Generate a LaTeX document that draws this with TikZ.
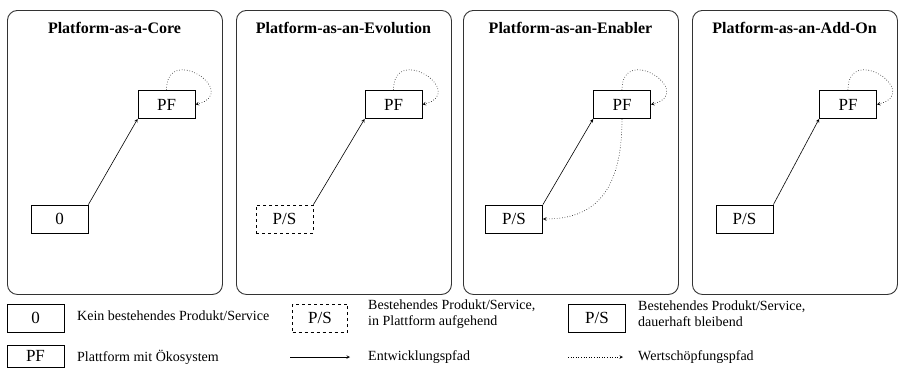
\documentclass[tikz,border=0pt]{standalone}
\usepackage{fontspec}
\setmainfont{Liberation Serif}
\usetikzlibrary{arrows,positioning}
\tikzstyle{panel} = [draw=black!80,line width=0.9pt,rounded corners=10pt,anchor=north west]
\tikzstyle{title} = [font=\fontsize{16}{18}\selectfont\bfseries]
\tikzstyle{box} = [draw,line width=0.8pt,minimum width=57pt,minimum height=28pt,inner sep=0pt,font=\fontsize{17}{19}\selectfont]
\tikzstyle{dbox} = [box,dashed]
\tikzstyle{legtext} = [font=\fontsize{14}{16}\selectfont,anchor=west,align=left,inner sep=0pt]
\tikzstyle{devpath} = [line width=0.6pt,->,>=stealth]
\tikzstyle{valpath} = [line width=0.6pt,dotted,->,>=stealth]

\begin{document}
\begin{tikzpicture}[x=1pt,y=-1pt]
\useasboundingbox (0,0) rectangle (904,368);

% panels
\node[panel,minimum width=215pt,minimum height=284pt] (core) at (7,10) {};
\node[panel,minimum width=215pt,minimum height=284pt] (evol) at (236,10) {};
\node[panel,minimum width=215pt,minimum height=284pt] (enab) at (463,10) {};
\node[panel,minimum width=205pt,minimum height=284pt] (addon) at (692,10) {};

\node[title] (t1) at (114.5,28) {Platform-as-a-Core};
\node[title] (t2) at (343.5,28) {Platform-as-an-Evolution};
\node[title] (t3) at (570.5,28) {Platform-as-an-Enabler};
\node[title] (t4) at (794.5,28) {Platform-as-an-Add-On};

% Platform-as-a-Core
\node[box] (pf1) at (166.5,104.5) {PF};
\node[box] (zero1) at (59.5,219) {0};
\draw [devpath] (zero1.north east) -- (pf1.south west);
\draw [valpath] (pf1.north) .. controls +(0,-48) and +(46,-12) .. (pf1.east);

% Platform-as-an-Evolution
\node[box] (pf2) at (393.5,104.5) {PF};
\node[dbox] (ps2) at (284.5,219) {P/S};
\draw [devpath] (ps2.north east) -- (pf2.south west);
\draw [valpath] (pf2.north) .. controls +(0,-48) and +(46,-12) .. (pf2.east);

% Platform-as-an-Enabler
\node[box] (pf3) at (622,104.5) {PF};
\node[box] (ps3) at (514,219) {P/S};
\draw [devpath] (ps3.north east) -- (pf3.south west);
\draw [valpath] (pf3.north) .. controls +(0,-48) and +(46,-12) .. (pf3.east);
\draw [valpath] (pf3.south) .. controls +(0,75) and +(50,0) .. (ps3.east);

% Platform-as-an-Add-On
\node[box] (pf4) at (848,104.5) {PF};
\node[box] (ps4) at (744.5,219) {P/S};
\draw [devpath] (ps4.north east) -- (pf4.south west);
\draw [valpath] (pf4.north) .. controls +(0,-48) and +(46,-12) .. (pf4.east);

% legend
\node[box] (lzero) at (35.5,318) {0};
\node[legtext] (lzerotxt) at (77,316) {Kein bestehendes Produkt/Service};
\node[dbox,minimum width=55pt] (ldash) at (320,318) {P/S};
\node[legtext] (ldashtxt) at (368,314) {Bestehendes Produkt/Service,\\in Plattform aufgehend};
\node[box] (lsolid) at (597,318) {P/S};
\node[legtext] (lsolidtxt) at (638,314) {Bestehendes Produkt/Service,\\dauerhaft bleibend};

\node[box,minimum height=22pt] (lpf) at (35.5,356) {PF};
\node[legtext] (lpftxt) at (77,357) {Plattform mit Ökosystem};
\coordinate (devs) at (290,357);
\coordinate (deve) at (350,357);
\draw [devpath] (devs) -- (deve);
\node[legtext] (devtxt) at (368,357) {Entwicklungspfad};
\coordinate (vals) at (568,357);
\coordinate (vale) at (623,357);
\draw [valpath] (vals) -- (vale);
\node[legtext] (valtxt) at (638,357) {Wertschöpfungspfad};
\end{tikzpicture}
\end{document}
